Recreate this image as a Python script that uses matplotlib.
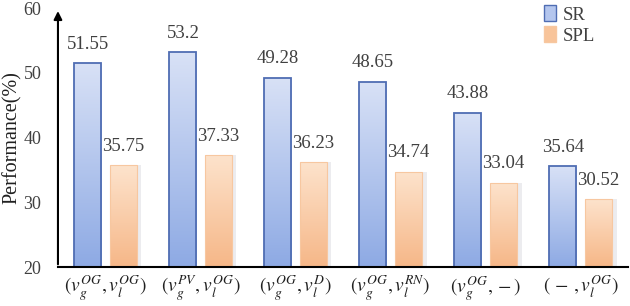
import matplotlib.pyplot as plt
import matplotlib.patches as mpatches
import numpy as np

plt.rcParams['font.family'] = ['Liberation Serif', 'DejaVu Serif']
plt.rcParams['mathtext.fontset'] = 'stix'

labels = [r'$(v_g^{OG}, v_l^{OG})$', r'$(v_g^{PV}, v_l^{OG})$', r'$(v_g^{OG}, v_l^{D})$',
          r'$(v_g^{OG}, v_l^{RN})$', r'$(v_g^{OG}, -)$', r'$(\,-\,, v_l^{OG})$']
sr = [51.55, 53.2, 49.28, 48.65, 43.88, 35.64]
spl = [35.75, 37.33, 36.23, 34.74, 33.04, 30.52]
sr_text = ['51.55', '53.2', '49.28', '48.65', '43.88', '35.64']
spl_text = ['35.75', '37.33', '36.23', '34.74', '33.04', '30.52']

fig = plt.figure(figsize=(6.3, 3.06), dpi=100)
ax = fig.add_axes([0.092, 0.127, 0.905, 0.846])

x = np.arange(len(labels))
width = 0.285
off = 0.186
txt_col = '#404040'


def gradient_bars(bars, top_col, bot_col, edge, lw):
    for b in bars:
        b.set_facecolor('none')
        b.set_edgecolor(edge)
        b.set_linewidth(lw)
        x0, y0 = b.get_x(), b.get_y()
        w, h = b.get_width(), b.get_height()
        t = np.linspace(0, 1, 64)[:, None]
        c0 = np.array(plt.matplotlib.colors.to_rgb(top_col))
        c1 = np.array(plt.matplotlib.colors.to_rgb(bot_col))
        img = (c0[None, None, :] * (1 - t[:, :, None]) + c1[None, None, :] * t[:, :, None])
        img = np.repeat(img, 2, axis=1)
        im = ax.imshow(img, extent=[x0, x0 + w, y0, y0 + h], origin='upper',
                       aspect='auto', zorder=1.5, interpolation='bilinear')
        im.set_clip_path(b)


# soft shadow behind orange bars
for xi, v in zip(x, spl):
    ax.add_patch(mpatches.Rectangle((xi + off - width / 2 + 0.03, 20), width + 0.02, v - 20,
                                    facecolor='#ececef', edgecolor='none', zorder=1))

b1 = ax.bar(x - off, np.array(sr) - 20, width, bottom=20, zorder=2, label='SR')
b2 = ax.bar(x + off, np.array(spl) - 20, width, bottom=20, zorder=2, label='SPL')
gradient_bars(b1, '#d8e1f6', '#8eaae4', '#4f6db3', 1.3)
gradient_bars(b2, '#fde3cc', '#f6b788', '#f7c7a0', 0.8)

for xi, v, s in zip(x, sr, sr_text):
    ax.text(xi - off, v + 1.6, s, ha='center', va='bottom', fontsize=13.5, color=txt_col)
for xi, v, s in zip(x, spl, spl_text):
    ax.text(xi + off, v + 1.6, s, ha='center', va='bottom', fontsize=13.5, color=txt_col)

ax.set_xlim(-0.5, 5.5)
ax.set_ylim(20, 60)
ax.set_yticks([20, 30, 40, 50, 60])
ax.set_xticks(x)
ax.set_xticklabels(labels, fontsize=14, color='#202020')
ax.tick_params(axis='both', length=0)
ax.tick_params(axis='y', labelsize=13, labelcolor=txt_col, pad=12)
ax.tick_params(axis='x', pad=5)
ax.set_ylabel('Performance(%)', fontsize=14.5, color='#202020', labelpad=1)

for s in ['top', 'right', 'left']:
    ax.spines[s].set_visible(False)
ax.spines['bottom'].set_linewidth(1.5)
ax.annotate('', xy=(0, 1.0), xytext=(0, 0), xycoords='axes fraction',
            arrowprops=dict(arrowstyle='-|>', color='black', lw=1.5, mutation_scale=12),
            annotation_clip=False)

h1 = mpatches.Patch(facecolor='#b4c6ee', edgecolor='#4f6db3', label='SR')
h2 = mpatches.Patch(facecolor='#f8c49a', edgecolor='#f7c7a0', label='SPL')
ax.legend(handles=[h1, h2], loc='upper left', bbox_to_anchor=(0.84, 1.04), frameon=False,
          fontsize=13.5, handlelength=0.6, handleheight=0.9, handletextpad=0.4,
          labelspacing=0.15, labelcolor=txt_col, borderaxespad=0)

fig.savefig('out.png', dpi=100)
